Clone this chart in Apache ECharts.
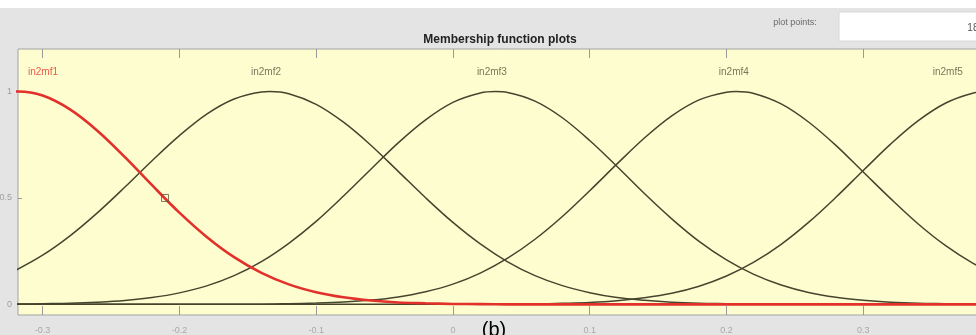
<!DOCTYPE html>
<html><head><meta charset="utf-8">
<script src="https://cdn.jsdelivr.net/npm/echarts@6/dist/echarts.min.js"></script>
<style>html,body{margin:0;padding:0;background:#e4e4e4}#c{width:976px;height:335px}</style>
</head><body><div id="c"></div>
<script>
// x sample positions (input range)
const xs = [-0.32,-0.30,-0.28,-0.26,-0.24,-0.22,-0.20,-0.18,-0.16,-0.14,-0.12,-0.10,-0.08,-0.06,-0.04,-0.02,0.00,0.02,0.04,0.06,0.08,0.10,0.12,0.14,0.16,0.18,0.20,0.22,0.24,0.26,0.28,0.30,0.32,0.34,0.36,0.38,0.40];
const mfNames = ['in2mf1','in2mf2','in2mf3','in2mf4','in2mf5'];
const in2mf1 = [1.000,0.981,0.916,0.816,0.693,0.560,0.431,0.317,0.222,0.148,0.094,0.057,0.033,0.018,0.009,0.005,0.002,0.001,0,0,0,0,0,0,0,0,0,0,0,0,0,0,0,0,0,0,0];
const in2mf2 = [0.159,0.231,0.322,0.430,0.550,0.675,0.793,0.894,0.965,0.998,0.990,0.940,0.856,0.748,0.625,0.501,0.385,0.284,0.200,0.135,0.088,0.055,0.032,0.019,0.010,0.005,0.003,0.001,0.001,0,0,0,0,0,0,0,0];
const in2mf3 = [0.001,0.003,0.005,0.010,0.018,0.032,0.054,0.087,0.135,0.201,0.287,0.390,0.509,0.635,0.759,0.867,0.949,0.993,0.996,0.955,0.877,0.770,0.648,0.521,0.402,0.296,0.209,0.141,0.091,0.056,0.033,0.019,0.010,0.005,0.003,0.001,0.001];
const in2mf4 = [0,0,0,0,0,0,0,0,0.001,0.001,0.003,0.006,0.011,0.020,0.035,0.059,0.095,0.147,0.217,0.306,0.413,0.534,0.660,0.782,0.886,0.961,0.997,0.991,0.942,0.857,0.747,0.622,0.497,0.379,0.277,0.194,0.130];
const in2mf5 = [0,0,0,0,0,0,0,0,0,0,0,0,0,0,0,0,0,0,0.001,0.002,0.005,0.009,0.017,0.031,0.052,0.085,0.133,0.198,0.282,0.385,0.503,0.629,0.753,0.862,0.945,0.992,0.997];
// peak (centre) of each membership function, value 1
const mfPeakX = [-0.318,-0.134,0.031,0.207,0.392];
const mfPeakY = [1,1,1,1,1];
const mfLabelX = [-0.2997,-0.1367,0.0285,0.2054,0.3618];
const mfLabelY = 1.092;
const markerPoint = [-0.2105, 0.5];
const xTickValues = [-0.3,-0.2,-0.1,0,0.1,0.2,0.3];
const yTickValues = [0,0.5,1];
const xRange = [-0.318, 0.40];
const yRange = [-0.05, 1.2];
const plotPoints = '181';

const mfValues = [in2mf1,in2mf2,in2mf3,in2mf4,in2mf5];
const chart = echarts.init(document.getElementById('c'), null, {renderer:'canvas'});
const dark = '#45452e';
const red = '#e2302a';

const lineSeries = mfValues.map((vals, k) => {
  const pts = xs.map((x,i)=>[x, vals[i]]);
  pts.push([mfPeakX[k], mfPeakY[k]]);
  pts.sort((a,b)=>a[0]-b[0]);
  return {
    type:'line', name: mfNames[k], xAxisIndex:0, yAxisIndex:0,
    data: pts,
    smooth: 0.35, showSymbol:false, silent:true, clip:true,
    lineStyle:{color: k===0?red:dark, width: k===0?2.6:1.5},
    z: k===0?5:3
  };
});

const option = {
  backgroundColor:'#e4e4e4',
  animation:false,
  grid:{left:18, top:49, right:-24, bottom:20, outerBoundsMode:'none', containLabel:false,
        show:true, backgroundColor:'#fdfdd0', borderColor:'#a3a3a3', borderWidth:1},
  xAxis:[{
    type:'value', min:xRange[0], max:xRange[1], position:'bottom',
    axisLine:{show:false, onZero:false}, splitLine:{show:false},
    axisTick:{show:true, inside:true, length:9, customValues:xTickValues, lineStyle:{color:'#9a9a9a'}},
    axisLabel:{show:true, customValues:xTickValues, color:'#a9a9a9', fontSize:9, margin:11, fontFamily:'Liberation Sans'}
  },{
    type:'value', min:xRange[0], max:xRange[1], position:'top',
    axisLine:{show:false, onZero:false}, splitLine:{show:false},
    axisTick:{show:true, inside:true, length:9, customValues:xTickValues, lineStyle:{color:'#9a9a9a'}},
    axisLabel:{show:false}
  }],
  yAxis:[{
    type:'value', min:yRange[0], max:yRange[1], position:'left',
    axisLine:{show:false, onZero:false}, splitLine:{show:false},
    axisTick:{show:true, inside:true, length:4, customValues:yTickValues, lineStyle:{color:'#9a9a9a'}},
    axisLabel:{show:true, customValues:yTickValues, color:'#9f9f9f', fontSize:9, margin:6, fontFamily:'Liberation Sans'}
  }],
  series: lineSeries.concat([
    {
      type:'scatter', silent:true, symbolSize:0,
      data: mfNames.map((n,k)=>({value:[mfLabelX[k], mfLabelY], name:n,
        label:{color: k===0?red:'#55553c'}})),
      label:{show:true, position:'inside', formatter:p=>p.name, fontSize:10, fontFamily:'Liberation Sans'},
      z:6
    },
    {
      type:'scatter', silent:true, symbol:'rect', symbolSize:7,
      data:[markerPoint],
      itemStyle:{color:'rgba(0,0,0,0)', borderColor:'#5a5a44', borderWidth:1},
      z:7
    }
  ]),
  graphic:[
    {type:'rect', shape:{x:0,y:0,width:976,height:8}, style:{fill:'#ffffff'}, z:0},
    {type:'rect', shape:{x:839,y:12,width:140,height:29}, style:{fill:'#ffffff', stroke:'#d8d8d8', lineWidth:1}, z:0},
    {type:'text', x:795, y:23, style:{text:'plot points:', fill:'#6a6a6a', font:'9px "Liberation Sans"', align:'center', verticalAlign:'middle'}},
    {type:'text', x:984, y:28, style:{text:plotPoints, fill:'#555', font:'10px "Liberation Sans"', align:'right', verticalAlign:'middle'}},
    {type:'text', x:500, y:40, style:{text:'Membership function plots', fill:'#222', font:'bold 12px "Liberation Sans"', align:'center', verticalAlign:'middle'}},
    {type:'text', x:494, y:320, style:{text:'(b)', fill:'#000', font:'20px "Liberation Sans"', align:'center', verticalAlign:'top'}, z:10}
  ]
};
chart.setOption(option);
</script>
</body></html>
